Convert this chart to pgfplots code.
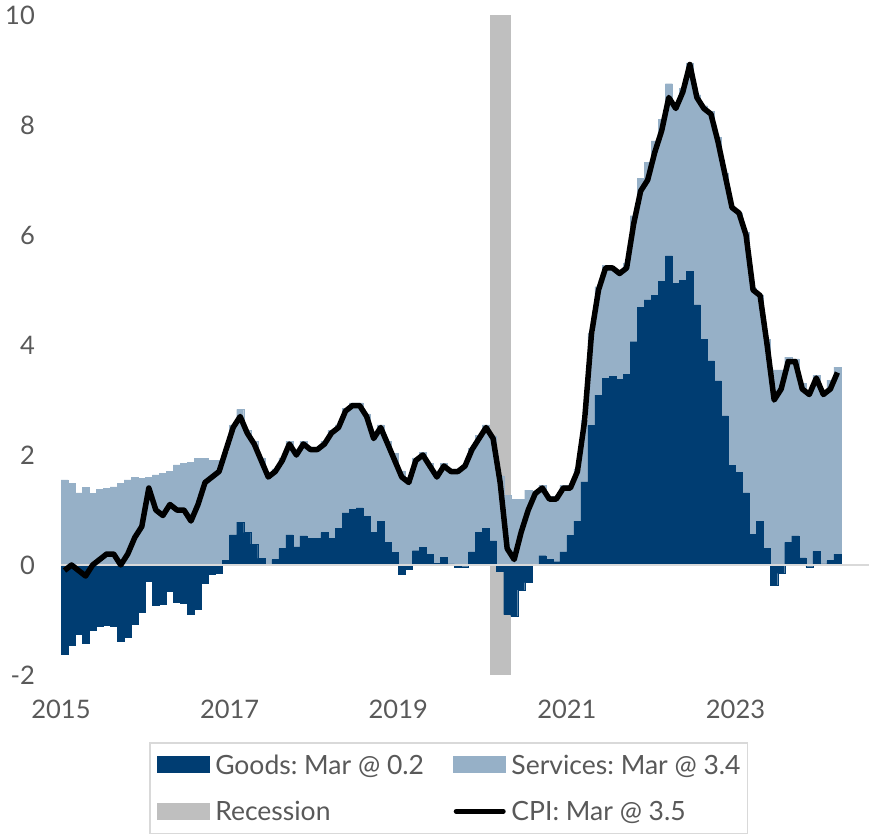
\documentclass[border=0pt]{standalone}
\usepackage{pgfplots}
\usepackage{pgfplotstable}
\usepackage{fontspec}
\setmainfont{Lato}
\pgfplotsset{compat=1.18}
\frenchspacing
\definecolor{goodsc}{HTML}{003D72}
\definecolor{servc}{HTML}{96B0C7}
\definecolor{recc}{HTML}{BFBFBF}
\definecolor{zeroc}{HTML}{D9D9D9}
\definecolor{labelc}{HTML}{595959}
\pgfplotstableread{
i goods serv cpi
0 -1.62 1.55 -0.1
1 -1.46 1.49 0.0
2 -1.26 1.31 -0.1
3 -1.42 1.41 -0.2
4 -1.18 1.30 0.0
5 -1.11 1.38 0.1
6 -1.09 1.40 0.2
7 -1.11 1.42 0.2
8 -1.38 1.49 0.0
9 -1.32 1.55 0.2
10 -1.08 1.59 0.5
11 -0.86 1.58 0.7
12 -0.30 1.60 1.4
13 -0.73 1.64 1.0
14 -0.71 1.67 0.9
15 -0.47 1.70 1.1
16 -0.67 1.82 1.0
17 -0.69 1.85 1.0
18 -0.90 1.87 0.8
19 -0.81 1.94 1.1
20 -0.33 1.94 1.5
21 -0.16 1.90 1.6
22 -0.15 1.90 1.7
23 0.09 1.96 2.1
24 0.55 2.00 2.5
25 0.78 2.05 2.7
26 0.59 1.86 2.4
27 0.38 1.87 2.2
28 0.12 1.83 1.9
29 0.00 1.65 1.6
30 0.10 1.65 1.7
31 0.30 1.65 1.9
32 0.55 1.70 2.2
33 0.33 1.72 2.0
34 0.53 1.72 2.2
35 0.48 1.67 2.1
36 0.48 1.67 2.1
37 0.59 1.66 2.2
38 0.48 1.97 2.4
39 0.67 1.88 2.5
40 0.95 1.90 2.8
41 1.01 1.94 2.9
42 1.04 1.91 2.9
43 0.89 1.86 2.7
44 0.59 1.76 2.3
45 0.79 1.76 2.5
46 0.41 1.84 2.2
47 0.23 1.80 1.9
48 -0.17 1.71 1.6
49 -0.07 1.60 1.5
50 0.26 1.69 1.9
51 0.32 1.73 2.0
52 0.20 1.65 1.8
53 0.03 1.62 1.6
54 0.14 1.71 1.8
55 0.02 1.73 1.7
56 -0.04 1.75 1.7
57 -0.03 1.82 1.8
58 0.24 1.88 2.1
59 0.59 1.77 2.3
60 0.67 1.88 2.5
61 0.44 1.91 2.3
62 -0.12 1.62 1.5
63 -0.90 1.27 0.3
64 -0.93 1.19 0.1
65 -0.45 1.19 0.6
66 -0.32 1.36 1.0
67 0.00 1.35 1.3
68 0.17 1.28 1.4
69 0.10 1.15 1.2
70 0.06 1.19 1.2
71 0.24 1.21 1.4
72 0.54 0.91 1.4
73 0.80 0.95 1.7
74 1.51 1.13 2.6
75 2.54 1.67 4.2
76 3.09 1.97 5.0
77 3.40 2.05 5.4
78 3.43 1.95 5.4
79 3.38 1.94 5.3
80 3.47 2.01 5.4
81 4.06 2.29 6.2
82 4.68 2.35 6.8
83 4.82 2.50 7.0
84 4.90 2.81 7.5
85 5.16 2.94 7.9
86 5.62 3.13 8.5
87 5.12 3.23 8.3
88 5.17 3.50 8.6
89 5.34 3.79 9.1
90 4.73 3.82 8.5
91 4.10 4.25 8.3
92 3.71 4.54 8.2
93 3.35 4.42 7.7
94 2.71 4.42 7.1
95 1.81 4.69 6.5
96 1.68 4.72 6.4
97 1.31 4.74 6.0
98 0.56 4.47 5.0
99 0.80 4.11 4.9
100 0.30 3.80 4.0
101 -0.36 3.55 3.0
102 -0.15 3.55 3.2
103 0.41 3.37 3.7
104 0.53 3.22 3.7
105 0.13 3.17 3.2
106 -0.03 3.18 3.1
107 0.25 3.20 3.4
108 0.02 3.16 3.1
109 0.08 3.28 3.2
110 0.20 3.40 3.5
}\data
\begin{document}
\begin{tikzpicture}
\useasboundingbox (-61pt,-158pt) rectangle (811pt,675pt);
\begin{axis}[
  scale only axis,
  width=808pt, height=660pt,
  xmin=0, xmax=115, ymin=-2, ymax=10,
  axis line style={draw=none},
  major tick length=0pt,
  clip=false,
  xtick={0,24,48,72,96},
  xticklabels={2015,2017,2019,2021,2023},
  ytick={-2,0,2,4,6,8,10},
  /pgf/number format/assume math mode=true,
  ticklabel style={font=\fontsize{25.5}{30}\selectfont, text=labelc, inner sep=0pt},
  xticklabel style={anchor=north, yshift=-25pt},
  yticklabel style={anchor=east, xshift=-26pt},
  legend columns=2,
  legend cell align=left,
  legend style={
    at={(0.10891,-0.10152)}, anchor=north west,
    draw=zeroc, line width=1.5pt, fill=white,
    inner xsep=7pt, inner ysep=12.5pt,
    font=\fontsize{26.5}{31}\selectfont, text=labelc,
    nodes={inner sep=0pt, text height=18.8pt, text depth=0pt},
    row sep=27.9pt,
    /tikz/every odd column/.append style={column sep=5pt},
    /tikz/every even column/.append style={column sep=29pt},
  },
]
% recession band Feb-Apr 2020
\addplot[fill=recc, draw=none, forget plot] coordinates {(61,-2) (61,10) (64,10) (64,-2)} -- cycle;
% services (stacked on top of positive goods)
\addplot[ybar, bar width=1, bar shift=0pt, fill=servc, draw=servc, line width=0.3pt, forget plot]
  table[x expr=\thisrow{i}+0.5, y expr={\thisrow{serv}+max(\thisrow{goods},0)}] {\data};
% goods
\addplot[ybar, bar width=1, bar shift=0pt, fill=goodsc, draw=goodsc, line width=0.3pt, forget plot]
  table[x expr=\thisrow{i}+0.5, y=goods] {\data};
% zero line
\addplot[zeroc, line width=2.5pt, forget plot] coordinates {(0,0) (115,0)};
% CPI
\addplot[black, line width=5.5pt, line join=round, mark=none, forget plot]
  table[x expr=\thisrow{i}+0.5, y=cpi] {\data};
\addlegendimage{legend image code/.code={\fill[goodsc] (0pt,-7.5pt) rectangle (52pt,7.5pt);}}
\addlegendentry{Goods: Mar @ 0.2}
\addlegendimage{legend image code/.code={\fill[servc] (0pt,-7.5pt) rectangle (52pt,7.5pt);}}
\addlegendentry{Services: Mar @ 3.4}
\addlegendimage{legend image code/.code={\fill[recc] (0pt,-8pt) rectangle (52pt,8pt);}}
\addlegendentry{Recession}
\addlegendimage{legend image code/.code={\draw[black, line width=5pt, line cap=round] (2.5pt,0pt) -- (49.5pt,0pt);}}
\addlegendentry{CPI: Mar @ 3.5}
\end{axis}
\end{tikzpicture}
\end{document}
